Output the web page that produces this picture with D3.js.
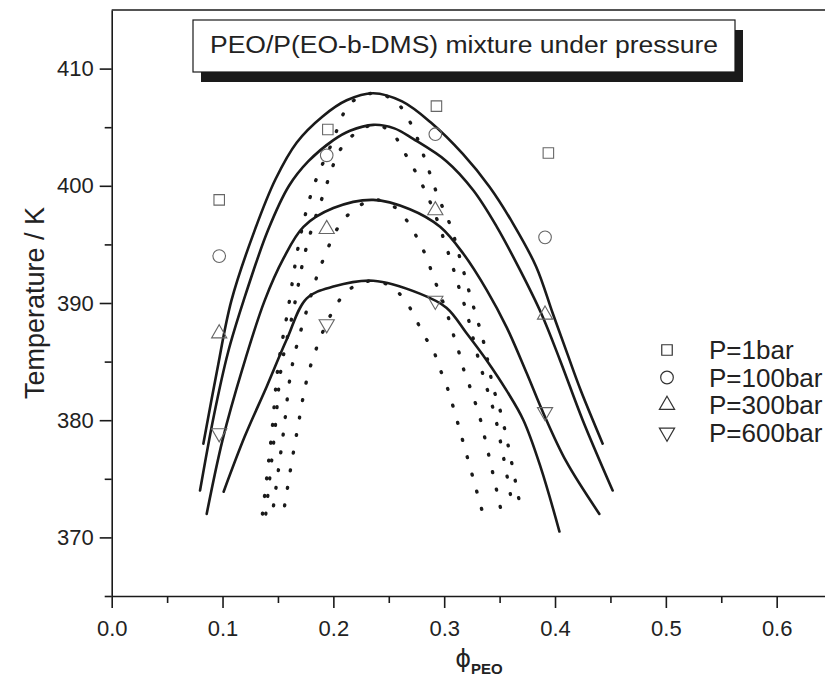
<!DOCTYPE html>
<html>
<head>
<meta charset="utf-8">
<script src="https://cdn.jsdelivr.net/npm/d3@7"></script>
<style>
  body { margin: 0; background: #fff; }
  svg { display: block; font-family: "Liberation Sans", Arial, sans-serif; }
</style>
</head>
<body>
<script>
// ---- data ----
var xTicks = [0.0, 0.1, 0.2, 0.3, 0.4, 0.5, 0.6];
var xMinor = [0.05, 0.15, 0.25, 0.35, 0.45, 0.55];
var yTicks = [370, 380, 390, 400, 410];
var yMinor = [365, 375, 385, 395, 405];

var pressures = ["P=1bar", "P=100bar", "P=300bar", "P=600bar"];
var symbols = ["square", "circle", "up", "down"];

// measured cloud points (phi, T)
var pts1bar   = [[0.097, 398.8], [0.195, 404.8], [0.293, 406.8], [0.394, 402.8]];
var pts100bar = [[0.097, 394.0], [0.194, 402.6], [0.292, 404.4], [0.391, 395.6]];
var pts300bar = [[0.097, 387.4], [0.194, 396.3], [0.292, 397.9], [0.391, 389.0]];
var pts600bar = [[0.097, 378.9], [0.194, 388.2], [0.292, 390.2], [0.391, 380.7]];

// binodals (solid)
var bin1bar = [[0.0827,378.0],[0.095,384.2],[0.108,390.2],[0.129,396.2],[0.148,400.6],[0.167,403.7],
  [0.19,405.9],[0.212,407.3],[0.236,407.9],[0.262,407.2],[0.288,405.4],[0.317,402.7],[0.341,399.9],
  [0.362,396.8],[0.383,393.1],[0.398,389.1],[0.411,385.7],[0.423,382.6],[0.443,378.0]];
var bin100bar = [[0.0797,374.0],[0.092,380.3],[0.105,385.8],[0.119,390.2],[0.141,396.2],[0.16,400.0],
  [0.1775,402.1],[0.2,403.9],[0.215,404.7],[0.236,405.2],[0.255,404.9],[0.272,404.0],[0.302,402.1],
  [0.3264,399.6],[0.3475,396.5],[0.3685,392.8],[0.3876,389.1],[0.4046,385.1],[0.425,380.0],[0.452,374.0]];
var bin300bar = [[0.0857,372.0],[0.1,378.3],[0.118,384.4],[0.138,390.2],[0.155,393.8],[0.173,396.5],
  [0.2,398.1],[0.236,398.8],[0.269,398.0],[0.2963,396.5],[0.3173,394.2],[0.3384,391.1],[0.3565,387.9],
  [0.3745,384.0],[0.3895,380.6],[0.41,376.5],[0.44,372.0]];
var bin600bar = [[0.101,373.9],[0.12,378.6],[0.14,382.9],[0.158,386.9],[0.176,390.4],[0.2,391.4],
  [0.236,391.9],[0.278,390.8],[0.302,389.6],[0.3204,387.4],[0.3384,385.1],[0.3565,382.5],
  [0.3715,380.0],[0.387,376.0],[0.404,370.5]];

// spinodals (dotted)
var spin1bar = [[0.136,372.0],[0.1444,378.9],[0.150,384.5],[0.159,389.4],[0.170,395.6],[0.182,399.9],
  [0.1985,403.6],[0.215,407.0],[0.236,407.9],[0.256,407.2],[0.27,405.3],[0.281,402.7],[0.294,399.2],
  [0.306,396.5],[0.314,393.9],[0.323,390.8],[0.336,386.5],[0.344,382.9],[0.352,380.3],[0.37,372.0]];
var spin100bar = [[0.139,372.0],[0.147,378.9],[0.153,384.5],[0.164,389.4],[0.175,394.5],[0.19,399.0],
  [0.21,403.6],[0.236,405.2],[0.252,404.6],[0.265,402.7],[0.278,400.5],[0.29,398.0],[0.305,393.9],
  [0.315,390.8],[0.320,389.3],[0.329,385.9],[0.338,382.9],[0.346,380.3],[0.362,372.5]];
var spin300bar = [[0.146,372.7],[0.1549,378.9],[0.1625,384.5],[0.176,389.4],[0.19,393.5],[0.21,397.2],
  [0.236,398.8],[0.255,398.2],[0.268,396.8],[0.277,395.3],[0.284,393.9],[0.290,392.3],[0.296,390.8],
  [0.302,389.3],[0.307,387.7],[0.313,385.9],[0.317,384.5],[0.323,382.9],[0.328,381.5],[0.332,380.3],[0.352,372.0]];
var spin600bar = [[0.156,372.7],[0.167,378.9],[0.179,384.5],[0.200,389.4],[0.215,391.2],[0.236,391.9],
  [0.252,391.4],[0.265,390.2],[0.274,388.7],[0.282,387.2],[0.290,386.0],[0.2957,384.5],[0.302,383.0],
  [0.307,381.5],[0.335,372.0]];

var points = [pts1bar, pts100bar, pts300bar, pts600bar];
var binodals = [bin1bar, bin100bar, bin300bar, bin600bar];
var spinodals = [spin1bar, spin100bar, spin300bar, spin600bar];

// ---- layout ----
var canvas = {w: 825, h: 697},
    plot = {left: 111.7, top: 10, bottom: 596};

var svg = d3.select("body").append("svg")
    .attr("width", canvas.w)
    .attr("height", canvas.h);

var x = d3.scaleLinear().domain([0, 0.65]).range([plot.left, plot.left + 0.65 * 1108.3]),
    y = d3.scaleLinear().domain([365, 415]).range([plot.bottom, plot.top]);

var ink = "#1a1a1a";

// frame top edge
svg.append("line")
    .attr("x1", x(0)).attr("x2", canvas.w)
    .attr("y1", y(415)).attr("y2", y(415))
    .attr("stroke", ink).attr("stroke-width", 1.6);

// minor ticks first, then major axes
svg.append("g")
    .attr("transform", "translate(0," + plot.bottom + ")")
    .call(d3.axisBottom(x).tickValues(xMinor).tickSize(7).tickFormat(""))
    .call(function(g) { g.select(".domain").remove(); });
svg.append("g")
    .attr("transform", "translate(" + plot.left + ",0)")
    .call(d3.axisLeft(y).tickValues(yMinor).tickSize(7).tickFormat(""))
    .call(function(g) { g.select(".domain").remove(); });

svg.append("g")
    .attr("transform", "translate(0," + plot.bottom + ")")
    .call(d3.axisBottom(x).tickValues(xTicks).tickSize(12).tickSizeOuter(0).tickPadding(12)
          .tickFormat(d3.format(".1f")));
svg.append("g")
    .attr("transform", "translate(" + plot.left + ",0)")
    .call(d3.axisLeft(y).tickValues(yTicks).tickSize(12).tickSizeOuter(0).tickPadding(6)
          .tickFormat(d3.format("d")));

svg.selectAll(".tick line, .domain").attr("stroke", ink).attr("stroke-width", 1.6);
svg.selectAll(".tick text")
    .attr("fill", "#222")
    .style("font-size", "22px")
    .style("font-family", "'Liberation Sans', Arial, sans-serif");

// axis titles
svg.append("text")
    .attr("transform", "translate(44," + ((plot.top + plot.bottom) / 2) + ") rotate(-90)")
    .attr("text-anchor", "middle")
    .attr("fill", "#222")
    .style("font-size", "27px")
    .text("Temperature / K");

var xt = svg.append("text")
    .attr("x", x(0.31))
    .attr("y", 667)
    .attr("fill", "#222")
    .style("font-size", "24px");
xt.append("tspan").style("font-family", "'DejaVu Sans', sans-serif").text("\u03d5");
xt.append("tspan").attr("dy", 7).style("font-size", "15px").style("font-weight", "bold").text("PEO");

// curves
var line = d3.line()
    .curve(d3.curveCatmullRom.alpha(0.5))
    .x(function(d) { return x(d[0]); })
    .y(function(d) { return y(d[1]); });

svg.append("g").selectAll("path.spin")
    .data(spinodals)
    .enter().append("path")
    .attr("class", "spin")
    .attr("d", line)
    .attr("fill", "none")
    .attr("stroke", ink)
    .attr("stroke-width", 3.4)
    .attr("stroke-linecap", "round")
    .attr("stroke-dasharray", "0.8,17");

svg.append("g").selectAll("path.bin")
    .data(binodals)
    .enter().append("path")
    .attr("class", "bin")
    .attr("d", line)
    .attr("fill", "none")
    .attr("stroke", ink)
    .attr("stroke-width", 2.6)
    .attr("stroke-linejoin", "round")
    .attr("stroke-linecap", "round");

// symbols
var symType = {
  square: d3.symbolSquare, circle: d3.symbolCircle, up: d3.symbolTriangle, down: d3.symbolTriangle
};
var symSize = {square: 110, circle: 125, up: 100, down: 100};
function symbolPath(s) { return d3.symbol().type(symType[s]).size(symSize[s])(); }
function symbolTransform(s, px, py) {
  return "translate(" + px + "," + py + ")" + (s === "down" ? " rotate(180)" : "");
}

points.forEach(function(series, i) {
  svg.append("g").selectAll("path")
    .data(series)
    .enter().append("path")
    .attr("d", symbolPath(symbols[i]))
    .attr("transform", function(d) { return symbolTransform(symbols[i], x(d[0]), y(d[1])); })
    .attr("fill", "none")
    .attr("stroke", "#666")
    .attr("stroke-width", 1.1);
});

// legend
var legend = svg.append("g").attr("transform", "translate(667,350)");
pressures.forEach(function(p, i) {
  var row = legend.append("g").attr("transform", "translate(0," + (i * 27.5) + ")");
  row.append("path")
    .attr("d", symbolPath(symbols[i]))
    .attr("transform", symbolTransform(symbols[i], 0, 0))
    .attr("fill", "none")
    .attr("stroke", "#333")
    .attr("stroke-width", 1.2);
  row.append("text")
    .attr("x", 42)
    .attr("y", 9)
    .attr("fill", "#222")
    .style("font-size", "26px")
    .text(p);
});

// title box with drop shadow
var title = "PEO/P(EO-b-DMS) mixture under pressure";
var titleWidth = 508;
var tb = svg.append("g");
tb.append("rect")
    .attr("x", 201).attr("y", 30)
    .attr("width", titleWidth + 34).attr("height", 52)
    .attr("fill", ink);
tb.append("rect")
    .attr("x", 193).attr("y", 20)
    .attr("width", titleWidth + 34).attr("height", 52)
    .attr("fill", "#fff")
    .attr("stroke", ink)
    .attr("stroke-width", 1.2);
tb.append("text")
    .attr("x", 210)
    .attr("y", 53)
    .attr("fill", "#222")
    .attr("textLength", titleWidth)
    .attr("lengthAdjust", "spacingAndGlyphs")
    .style("font-size", "23px")
    .text(title);
</script>
</body>
</html>
